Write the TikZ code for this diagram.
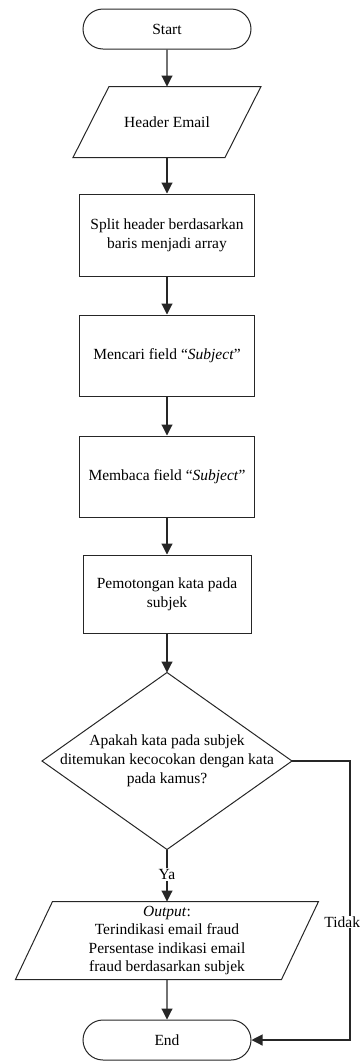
\documentclass[tikz,border=0pt]{standalone}
\usepackage{fontspec}
\setmainfont{Liberation Serif}
\usetikzlibrary{shapes.misc,arrows.meta,calc}
\begin{document}
\begin{tikzpicture}[x=1pt,y=1pt,
  font=\fontsize{15.5}{19}\selectfont,
  line width=1pt,
  every node/.style={text=black},
  outline/.style={draw=black!85, line width=1pt, line join=miter},
  term/.style={outline, rounded rectangle, minimum width=168pt, minimum height=40pt, inner sep=0pt},
  proc/.style={outline, rectangle, inner sep=0pt, align=center},
  iobox/.style={rectangle, inner sep=0pt, align=center},
  flow/.style={draw=black!85, line width=1.1pt, -{Triangle[width=11pt,length=11pt]}},
  lbl/.style={fill=white, inner sep=1.5pt}
]
\useasboundingbox (0,0) rectangle (361,-1061);

% terminators, processes and input/output blocks
\node[term] (start) at (167,-29) {Start};

\node[iobox, minimum width=187pt, minimum height=70pt] (hdr) at (167,-122) {Header Email};
\draw[outline] ($(hdr.north west)+(36,0)$) -- (hdr.north east)
  -- ($(hdr.south east)-(36,0)$) -- (hdr.south west) -- cycle;

\node[proc, minimum width=175pt, minimum height=82pt] (split) at (167,-235)
  {Split header berdasarkan\\baris menjadi array};
\node[proc, minimum width=175pt, minimum height=81pt] (find) at (167,-355.5)
  {Mencari field “\textit{Subject}”};
\node[proc, minimum width=175pt, minimum height=81pt] (read) at (167,-476.5)
  {Membaca field “\textit{Subject}”};
\node[proc, minimum width=168pt, minimum height=78pt] (cut) at (167,-594)
  {Pemotongan kata pada\\subjek};

% decision
\coordinate (dc) at (167,-761);
\coordinate (dtop) at (167,-672.5);
\coordinate (dbot) at (167,-849.5);
\coordinate (dleft) at (42,-761);
\coordinate (dright) at (292,-761);
\draw[outline] (dtop) -- (dright) -- (dbot) -- (dleft) -- cycle;
\node[align=center, inner sep=0pt] (qtext) at (dc)
  {Apakah kata pada subjek\\ditemukan kecocokan dengan kata\\pada kamus?};

% output
\node[iobox, minimum width=302pt, minimum height=77pt, font=\fontsize{15.5}{18.3}\selectfont] (out) at (167,-940.5)
  {\textit{Output}:\\Terindikasi email fraud\\Persentase indikasi email\\fraud berdasarkan subjek};
\draw[outline] ($(out.north west)+(37,0)$) -- (out.north east)
  -- ($(out.south east)-(37,0)$) -- (out.south west) -- cycle;

\node[term] (end) at (167,-1040) {End};

% connectors
\draw[flow] (start) -- (hdr);
\draw[flow] (hdr) -- (split);
\draw[flow] (split) -- (find);
\draw[flow] (find) -- (read);
\draw[flow] (read) -- (cut);
\draw[flow] (cut) -- (dtop);
\draw[flow] (dbot) -- node[lbl, pos=0.48] (ya) {Ya} (out);
\draw[flow] (out) -- (end);

\coordinate (tturn) at (350,-761);
\draw[flow] (dright) -- (tturn) |- (end.east);
\node[lbl, anchor=east, inner sep=0.5pt] (tidak) at (361,-922) {Tidak};
\end{tikzpicture}
\end{document}
